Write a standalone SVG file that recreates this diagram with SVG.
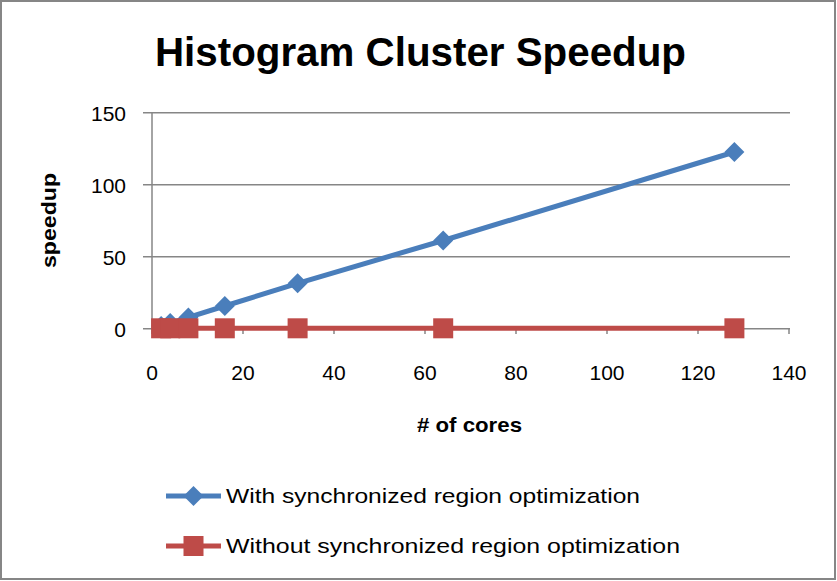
<svg xmlns="http://www.w3.org/2000/svg" width="837" height="581" viewBox="0 0 837 581">
  <style>
    .grid { stroke: #868686; stroke-width: 1.5; fill: none; }
    .lbl { font-family: "Liberation Sans", Arial, sans-serif; font-size: 21px; fill: #000; }
    .bold { font-weight: bold; }
    .blue { stroke: #4A7EBB; stroke-width: 5; fill: none; stroke-linejoin: round; }
    .red { stroke: #BE4B48; stroke-width: 5; fill: none; stroke-linejoin: round; }
  </style>
  <defs>
    <path id="dia" d="M0,-10 L10,0 L0,10 L-10,0 Z" fill="#4A7EBB"/>
    <rect id="sq" x="-10" y="-10" width="20" height="20" fill="#BE4B48"/>
  </defs>

  <rect x="1" y="1" width="834" height="578" fill="#fff" stroke="#868686" stroke-width="2"/>

  <g id="title">
    <text x="155" y="66" class="lbl bold" style="font-size:41px" textLength="531" lengthAdjust="spacingAndGlyphs">Histogram Cluster Speedup</text>
  </g>

  <!-- gridlines and axes -->
  <g id="axes">
    <line class="grid" x1="143" y1="112.7" x2="790" y2="112.7"/>
    <line class="grid" x1="143" y1="184.7" x2="790" y2="184.7"/>
    <line class="grid" x1="143" y1="256.7" x2="790" y2="256.7"/>
    <line class="grid" x1="143" y1="328.7" x2="790" y2="328.7"/>
    <line class="grid" x1="152" y1="112" x2="152" y2="334"/>
    <line class="grid" x1="243" y1="328.7" x2="243" y2="334"/>
    <line class="grid" x1="334" y1="328.7" x2="334" y2="334"/>
    <line class="grid" x1="425" y1="328.7" x2="425" y2="334"/>
    <line class="grid" x1="516" y1="328.7" x2="516" y2="334"/>
    <line class="grid" x1="607" y1="328.7" x2="607" y2="334"/>
    <line class="grid" x1="698" y1="328.7" x2="698" y2="334"/>
    <line class="grid" x1="789" y1="328.7" x2="789" y2="334"/>
  </g>

  <g id="y-labels" class="lbl" text-anchor="end">
    <text x="126" y="121">150</text>
    <text x="126" y="193">100</text>
    <text x="126" y="265">50</text>
    <text x="126" y="337">0</text>
  </g>

  <g id="x-labels" class="lbl" text-anchor="middle">
    <text x="152" y="380">0</text>
    <text x="243" y="380">20</text>
    <text x="334" y="380">40</text>
    <text x="425" y="380">60</text>
    <text x="516" y="380">80</text>
    <text x="607" y="380">100</text>
    <text x="698" y="380">120</text>
    <text x="789" y="380">140</text>
  </g>

  <g id="axis-titles">
    <text x="417" y="432" class="lbl bold" textLength="105" lengthAdjust="spacingAndGlyphs">&#35; of cores</text>
    <text transform="translate(56,268) rotate(-90)" class="lbl bold" textLength="95" lengthAdjust="spacingAndGlyphs">speedup</text>
  </g>

  <!-- series with synchronized region optimization -->
  <g id="series-with">
    <polyline class="blue" points="161.1,326 170.2,323.1 188.4,317.4 224.8,306 297.6,283.3 443.2,240.5 734.4,152"/>
    <use href="#dia" x="161.1" y="326"/>
    <use href="#dia" x="170.2" y="323.1"/>
    <use href="#dia" x="188.4" y="317.4"/>
    <use href="#dia" x="224.8" y="306"/>
    <use href="#dia" x="297.6" y="283.3"/>
    <use href="#dia" x="443.2" y="240.5"/>
    <use href="#dia" x="734.4" y="152"/>
  </g>

  <!-- series without synchronized region optimization -->
  <g id="series-without">
    <polyline class="red" points="161.1,328.3 170.2,328.3 188.4,328.3 224.8,328.3 297.6,328.3 443.2,328.3 734.4,328.3"/>
    <use href="#sq" x="161.1" y="328.3"/>
    <use href="#sq" x="170.2" y="328.3"/>
    <use href="#sq" x="188.4" y="328.3"/>
    <use href="#sq" x="224.8" y="328.3"/>
    <use href="#sq" x="297.6" y="328.3"/>
    <use href="#sq" x="443.2" y="328.3"/>
    <use href="#sq" x="734.4" y="328.3"/>
  </g>

  <g id="legend">
    <line class="blue" x1="166" y1="496" x2="221" y2="496"/>
    <use href="#dia" x="193.5" y="496"/>
    <text x="226" y="503" class="lbl" textLength="414" lengthAdjust="spacingAndGlyphs">With synchronized region optimization</text>
    <line class="red" x1="166" y1="546" x2="221" y2="546"/>
    <use href="#sq" x="193.5" y="546"/>
    <text x="226" y="553" class="lbl" textLength="454" lengthAdjust="spacingAndGlyphs">Without synchronized region optimization</text>
  </g>
</svg>
